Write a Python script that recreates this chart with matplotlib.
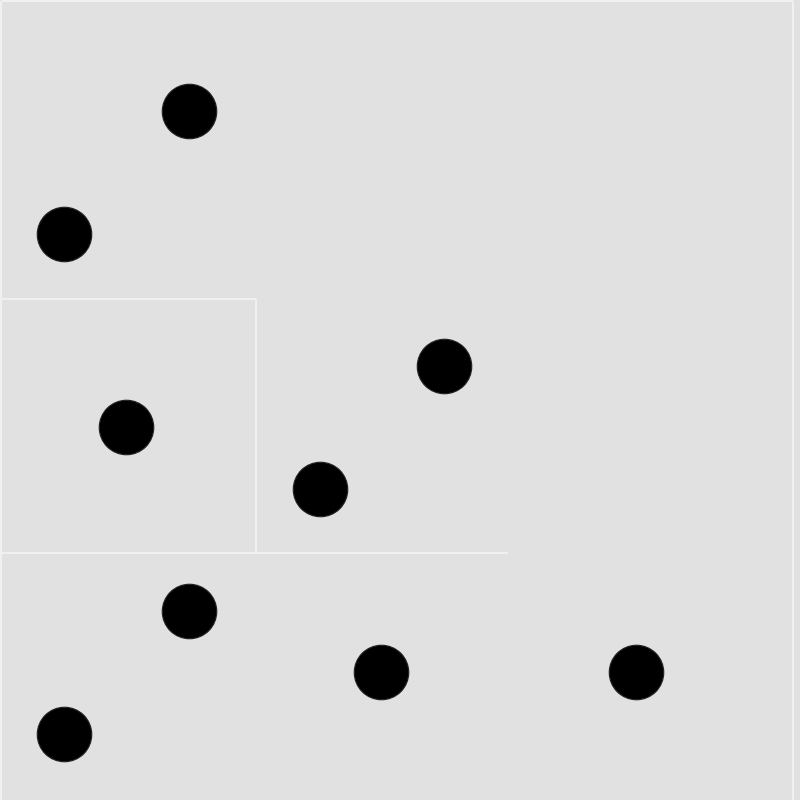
import matplotlib
matplotlib.use("Agg")
import matplotlib.pyplot as plt

# dot centres (pixel coordinates, y measured from top)
dot_x = [189, 64, 126, 444, 320, 189, 381, 636, 64]
dot_y = [111, 234, 427, 366, 489, 611, 672, 672, 734]

# faint divider lines (x0, x1, y0, y1)
line_x0 = [0, 256, 0, 2, 1, 793]
line_x1 = [256, 256, 508, 793, 1, 793]
line_y0 = [299, 299, 553, 1, 1, 1]
line_y1 = [299, 553, 553, 1, 800, 800]

bg = "#e1e1e1"

fig = plt.figure(figsize=(8, 8), dpi=100, facecolor=bg)
ax = fig.add_axes([0, 0, 1, 1])
ax.set_facecolor(bg)
ax.set_xlim(0, 800)
ax.set_ylim(800, 0)
ax.axis("off")

for x0, x1, y0, y1 in zip(line_x0, line_x1, line_y0, line_y1):
    ax.plot([x0, x1], [y0, y1], color="#f0f0f0", linewidth=1.5, solid_capstyle="butt")

ax.scatter(dot_x, dot_y, s=1540, color="black", edgecolors="#222222", linewidths=0.8, zorder=3)

fig.savefig("out.png", dpi=100, facecolor=bg)
